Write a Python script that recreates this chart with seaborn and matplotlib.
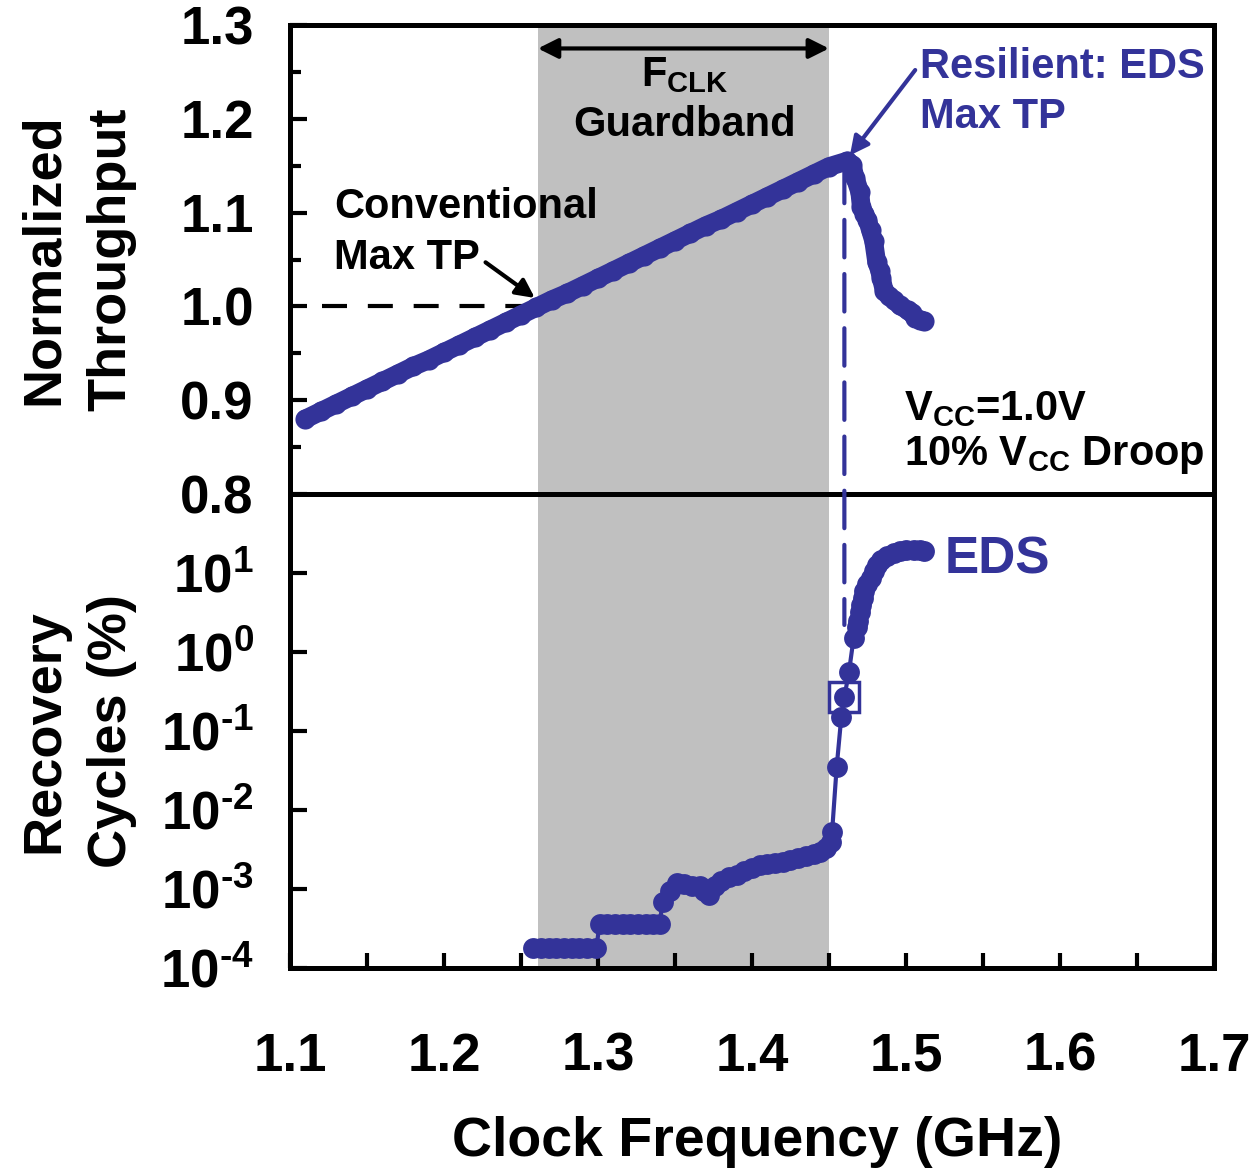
import numpy as np
import pandas as pd
import matplotlib
matplotlib.use("Agg")
import matplotlib.pyplot as plt
from matplotlib.ticker import FixedLocator, NullLocator
from matplotlib.patches import ConnectionPatch
import seaborn as sns

# ---------------- data ----------------
tp_freq = [1.11, 1.12, 1.13, 1.14, 1.15, 1.16, 1.17, 1.18, 1.19, 1.20,
           1.21, 1.22, 1.23, 1.24, 1.25, 1.26, 1.27, 1.28, 1.29, 1.30,
           1.31, 1.32, 1.33, 1.34, 1.35, 1.36, 1.37, 1.38, 1.39, 1.40,
           1.41, 1.42, 1.43, 1.44, 1.45, 1.462,
           1.465, 1.467, 1.470, 1.471, 1.473, 1.475, 1.477, 1.479, 1.481, 1.483,
           1.484, 1.486, 1.489, 1.492, 1.496, 1.501, 1.504, 1.506, 1.509, 1.512]
tp_value = [0.880, 0.888, 0.896, 0.904, 0.912, 0.920, 0.928, 0.936, 0.943, 0.951,
            0.959, 0.967, 0.975, 0.983, 0.991, 0.999, 1.007, 1.014, 1.022, 1.030,
            1.038, 1.046, 1.054, 1.062, 1.070, 1.078, 1.086, 1.093, 1.101, 1.109,
            1.117, 1.125, 1.133, 1.141, 1.149, 1.155,
            1.151, 1.137, 1.122, 1.106, 1.099, 1.092, 1.081, 1.070, 1.047, 1.038,
            1.030, 1.016, 1.011, 1.007, 1.001, 0.996, 0.993, 0.988, 0.986, 0.984]

rc_freq = [1.258, 1.263, 1.268, 1.273, 1.278, 1.283, 1.288, 1.293, 1.299,
           1.301, 1.306, 1.311, 1.316, 1.321, 1.326, 1.331, 1.336, 1.340,
           1.342, 1.347, 1.351, 1.356, 1.361, 1.366, 1.369, 1.372, 1.376, 1.380,
           1.385, 1.390, 1.395, 1.400, 1.405, 1.410, 1.415, 1.420, 1.425, 1.430,
           1.435, 1.440, 1.444, 1.448, 1.451, 1.452, 1.455, 1.458, 1.460, 1.463,
           1.466, 1.468, 1.469, 1.470, 1.471, 1.472, 1.473, 1.475, 1.477, 1.479,
           1.481, 1.484, 1.488, 1.492, 1.496, 1.500, 1.505, 1.509, 1.512]
rc_value = [1.8e-4, 1.8e-4, 1.8e-4, 1.8e-4, 1.8e-4, 1.8e-4, 1.8e-4, 1.8e-4, 1.8e-4,
            3.6e-4, 3.6e-4, 3.6e-4, 3.6e-4, 3.6e-4, 3.6e-4, 3.6e-4, 3.6e-4, 3.6e-4,
            6.9e-4, 9.5e-4, 1.2e-3, 1.15e-3, 1.1e-3, 1.1e-3, 9.5e-4, 8.5e-4, 1.1e-3, 1.25e-3,
            1.4e-3, 1.5e-3, 1.7e-3, 1.85e-3, 2.0e-3, 2.1e-3, 2.15e-3, 2.2e-3, 2.3e-3, 2.45e-3,
            2.6e-3, 2.75e-3, 2.9e-3, 3.3e-3, 3.9e-3, 5.2e-3, 3.5e-2, 1.5e-1, 2.7e-1, 5.6e-1,
            1.5, 2.1, 2.5, 3.2, 3.9, 4.8, 5.9, 7.2, 8.7, 10.5,
            12.6, 14.5, 16.6, 18.0, 19.0, 19.3, 19.5, 19.4, 19.0]

guardband = [1.261, 1.45]
eds_max_freq = 1.460
eds_max_rc = 0.27

x_ticks = [1.1, 1.2, 1.3, 1.4, 1.5, 1.6, 1.7]
x_ticklabels = ["1.1", "1.2", "1.3", "1.4", "1.5", "1.6", "1.7"]
tp_ticks = [0.8, 0.9, 1.0, 1.1, 1.2, 1.3]
tp_ticklabels = ["0.8", "0.9", "1.0", "1.1", "1.2", "1.3"]
rc_ticks = [1e-4, 1e-3, 1e-2, 1e-1, 1e0, 1e1]
rc_ticklabels = ["$10^{\u2010" + "4}$", "$10^{\u2010" + "3}$", "$10^{\u2010" + "2}$",
                 "$10^{\u2010" + "1}$", "$10^{0}$", "$10^{1}$"]

# ---------------- style ----------------
sns.set_theme(style="ticks")
plt.rcParams["font.family"] = ["Liberation Sans", "DejaVu Sans"]
plt.rcParams["font.weight"] = "bold"
plt.rcParams["mathtext.fontset"] = "custom"
plt.rcParams["mathtext.rm"] = "Liberation Sans:bold"
plt.rcParams["mathtext.it"] = "Liberation Sans:bold"
plt.rcParams["mathtext.bf"] = "Liberation Sans:bold"
plt.rcParams["mathtext.sf"] = "Liberation Sans:bold"
for key in ("text.color", "axes.labelcolor", "xtick.color", "ytick.color",
            "xtick.labelcolor", "ytick.labelcolor"):
    plt.rcParams[key] = "black"

BLUE = "#333399"
GRAY = "#C0C0C0"
TICK_FS = 38
LABEL_FS = 39
ANN_FS = 30

fig = plt.figure(figsize=(12.58, 11.68), dpi=100)
ax_top = fig.add_axes([0.2305, 0.57705, 0.7345, 0.40154])
ax_bot = fig.add_axes([0.2305, 0.17123, 0.7345, 0.40582], sharex=ax_top)

for ax in (ax_top, ax_bot):
    ax.set_facecolor("white")
    for s in ax.spines.values():
        s.set_linewidth(3.6)
        s.set_color("black")
    ax.axvspan(guardband[0], guardband[1], color=GRAY, lw=0, zorder=0)

# ---------------- top panel ----------------
df_tp = pd.DataFrame({"freq": tp_freq, "tp": tp_value})
sns.lineplot(data=df_tp, x="freq", y="tp", ax=ax_top, color=BLUE, linewidth=13.5,
             marker="o", markersize=14.5, markeredgewidth=0, sort=False,
             estimator=None, solid_capstyle="round", solid_joinstyle="round", zorder=3)
ax_top.set_xlim(1.1, 1.7)
ax_top.set_ylim(0.8, 1.3)
ax_top.yaxis.set_major_locator(FixedLocator(tp_ticks))
ax_top.set_yticklabels(tp_ticklabels)
ax_top.yaxis.set_minor_locator(FixedLocator([0.85, 0.95, 1.05, 1.15, 1.25]))
ax_top.tick_params(axis="y", which="major", direction="in", length=12, width=3,
                   labelsize=TICK_FS, pad=26, right=False, colors="black")
ax_top.tick_params(axis="y", which="minor", direction="in", length=8, width=3,
                   right=False, colors="black")
ax_top.tick_params(axis="x", which="both", bottom=False, top=False, labelbottom=False)
ax_top.set_xlabel("")
ax_top.set_ylabel("Normalized\nThroughput", fontsize=LABEL_FS, fontweight="bold",
                  linespacing=1.45, color="black")
ax_top.yaxis.set_label_coords(-0.166, 0.5)

# conventional max TP dashed line
ax_top.plot([1.121, 1.256], [1.0, 1.0], color="black", lw=3,
            linestyle=(0, (6, 5)), zorder=2)

# guardband arrow
ax_top.annotate("", xy=(guardband[0], 1.275), xytext=(guardband[1], 1.275),
                arrowprops=dict(arrowstyle="<|-|>", color="black", lw=3,
                                mutation_scale=30, shrinkA=0, shrinkB=0))
ax_top.text(1.3565, 1.247, r"F$_{CLK}$", fontsize=ANN_FS, ha="center", va="center")
ax_top.text(1.3565, 1.193, "Guardband", fontsize=ANN_FS, ha="center", va="center")

ax_top.text(1.1286, 1.106, "Conventional", fontsize=ANN_FS, ha="left", va="center")
ax_top.text(1.1286, 1.052, "Max TP", fontsize=ANN_FS, ha="left", va="center")
ax_top.annotate("", xy=(1.259, 1.009), xytext=(1.227, 1.047),
                arrowprops=dict(arrowstyle="-|>", color="black", lw=3,
                                mutation_scale=28, shrinkA=0, shrinkB=0))

ax_top.text(1.509, 1.255, "Resilient: EDS", fontsize=ANN_FS, ha="left", va="center",
            color=BLUE)
ax_top.text(1.509, 1.202, "Max TP", fontsize=ANN_FS, ha="left", va="center", color=BLUE)
ax_top.annotate("", xy=(1.4636, 1.161), xytext=(1.506, 1.252),
                arrowprops=dict(arrowstyle="-|>", color=BLUE, lw=3,
                                mutation_scale=28, shrinkA=0, shrinkB=0))

ax_top.text(1.499, 0.879, r"V$_{CC}$=1.0V", fontsize=ANN_FS, ha="left", va="baseline")
ax_top.text(1.499, 0.831, r"10% V$_{CC}$ Droop", fontsize=ANN_FS, ha="left", va="baseline")

# ---------------- bottom panel ----------------
ax_bot.set_yscale("log")
df_rc = pd.DataFrame({"freq": rc_freq, "rc": rc_value})
sns.lineplot(data=df_rc, x="freq", y="rc", ax=ax_bot, color=BLUE, linewidth=3,
             marker="o", markersize=15, markeredgewidth=0, sort=False,
             estimator=None, zorder=3)
ax_bot.plot([eds_max_freq], [eds_max_rc], marker="s", markersize=22, mfc="none",
            mec=BLUE, mew=2.5, linestyle="none", zorder=4)
ax_bot.set_ylim(1e-4, 1e2)
ax_bot.set_xlim(1.1, 1.7)
ax_bot.yaxis.set_major_locator(FixedLocator(rc_ticks))
ax_bot.set_yticklabels(rc_ticklabels)
ax_bot.yaxis.set_minor_locator(NullLocator())
ax_bot.xaxis.set_major_locator(FixedLocator(x_ticks))
ax_bot.set_xticklabels(x_ticklabels)
ax_bot.xaxis.set_minor_locator(FixedLocator([1.15, 1.25, 1.35, 1.45, 1.55, 1.65]))
ax_bot.tick_params(axis="y", which="major", direction="in", length=12, width=3,
                   labelsize=TICK_FS, pad=26, right=False, colors="black")
ax_bot.tick_params(axis="x", which="major", direction="in", length=11, width=3,
                   labelsize=TICK_FS, pad=46, top=False, colors="black")
ax_bot.tick_params(axis="x", which="minor", direction="in", length=11, width=3,
                   top=False, colors="black")
ax_bot.set_ylabel("Recovery\nCycles (%)", fontsize=LABEL_FS, fontweight="bold",
                  linespacing=1.45, color="black")
ax_bot.yaxis.set_label_coords(-0.166, 0.5)
ax_bot.set_xlabel("Clock Frequency (GHz)", fontsize=40, fontweight="bold", color="black")
ax_bot.xaxis.set_label_coords(0.506, -0.313)

ax_bot.text(1.525, 14.5, "EDS", fontsize=37, ha="left", va="center", color=BLUE)

# vertical dashed line from the EDS max TP point across both panels
con = ConnectionPatch(xyA=(eds_max_freq, 1.15), coordsA=ax_top.transData,
                      xyB=(eds_max_freq, 2.2), coordsB=ax_bot.transData,
                      color=BLUE, lw=3, linestyle=(0, (9, 4)), zorder=5)
fig.add_artist(con)

fig.savefig("out.png", dpi=100, facecolor="white")
